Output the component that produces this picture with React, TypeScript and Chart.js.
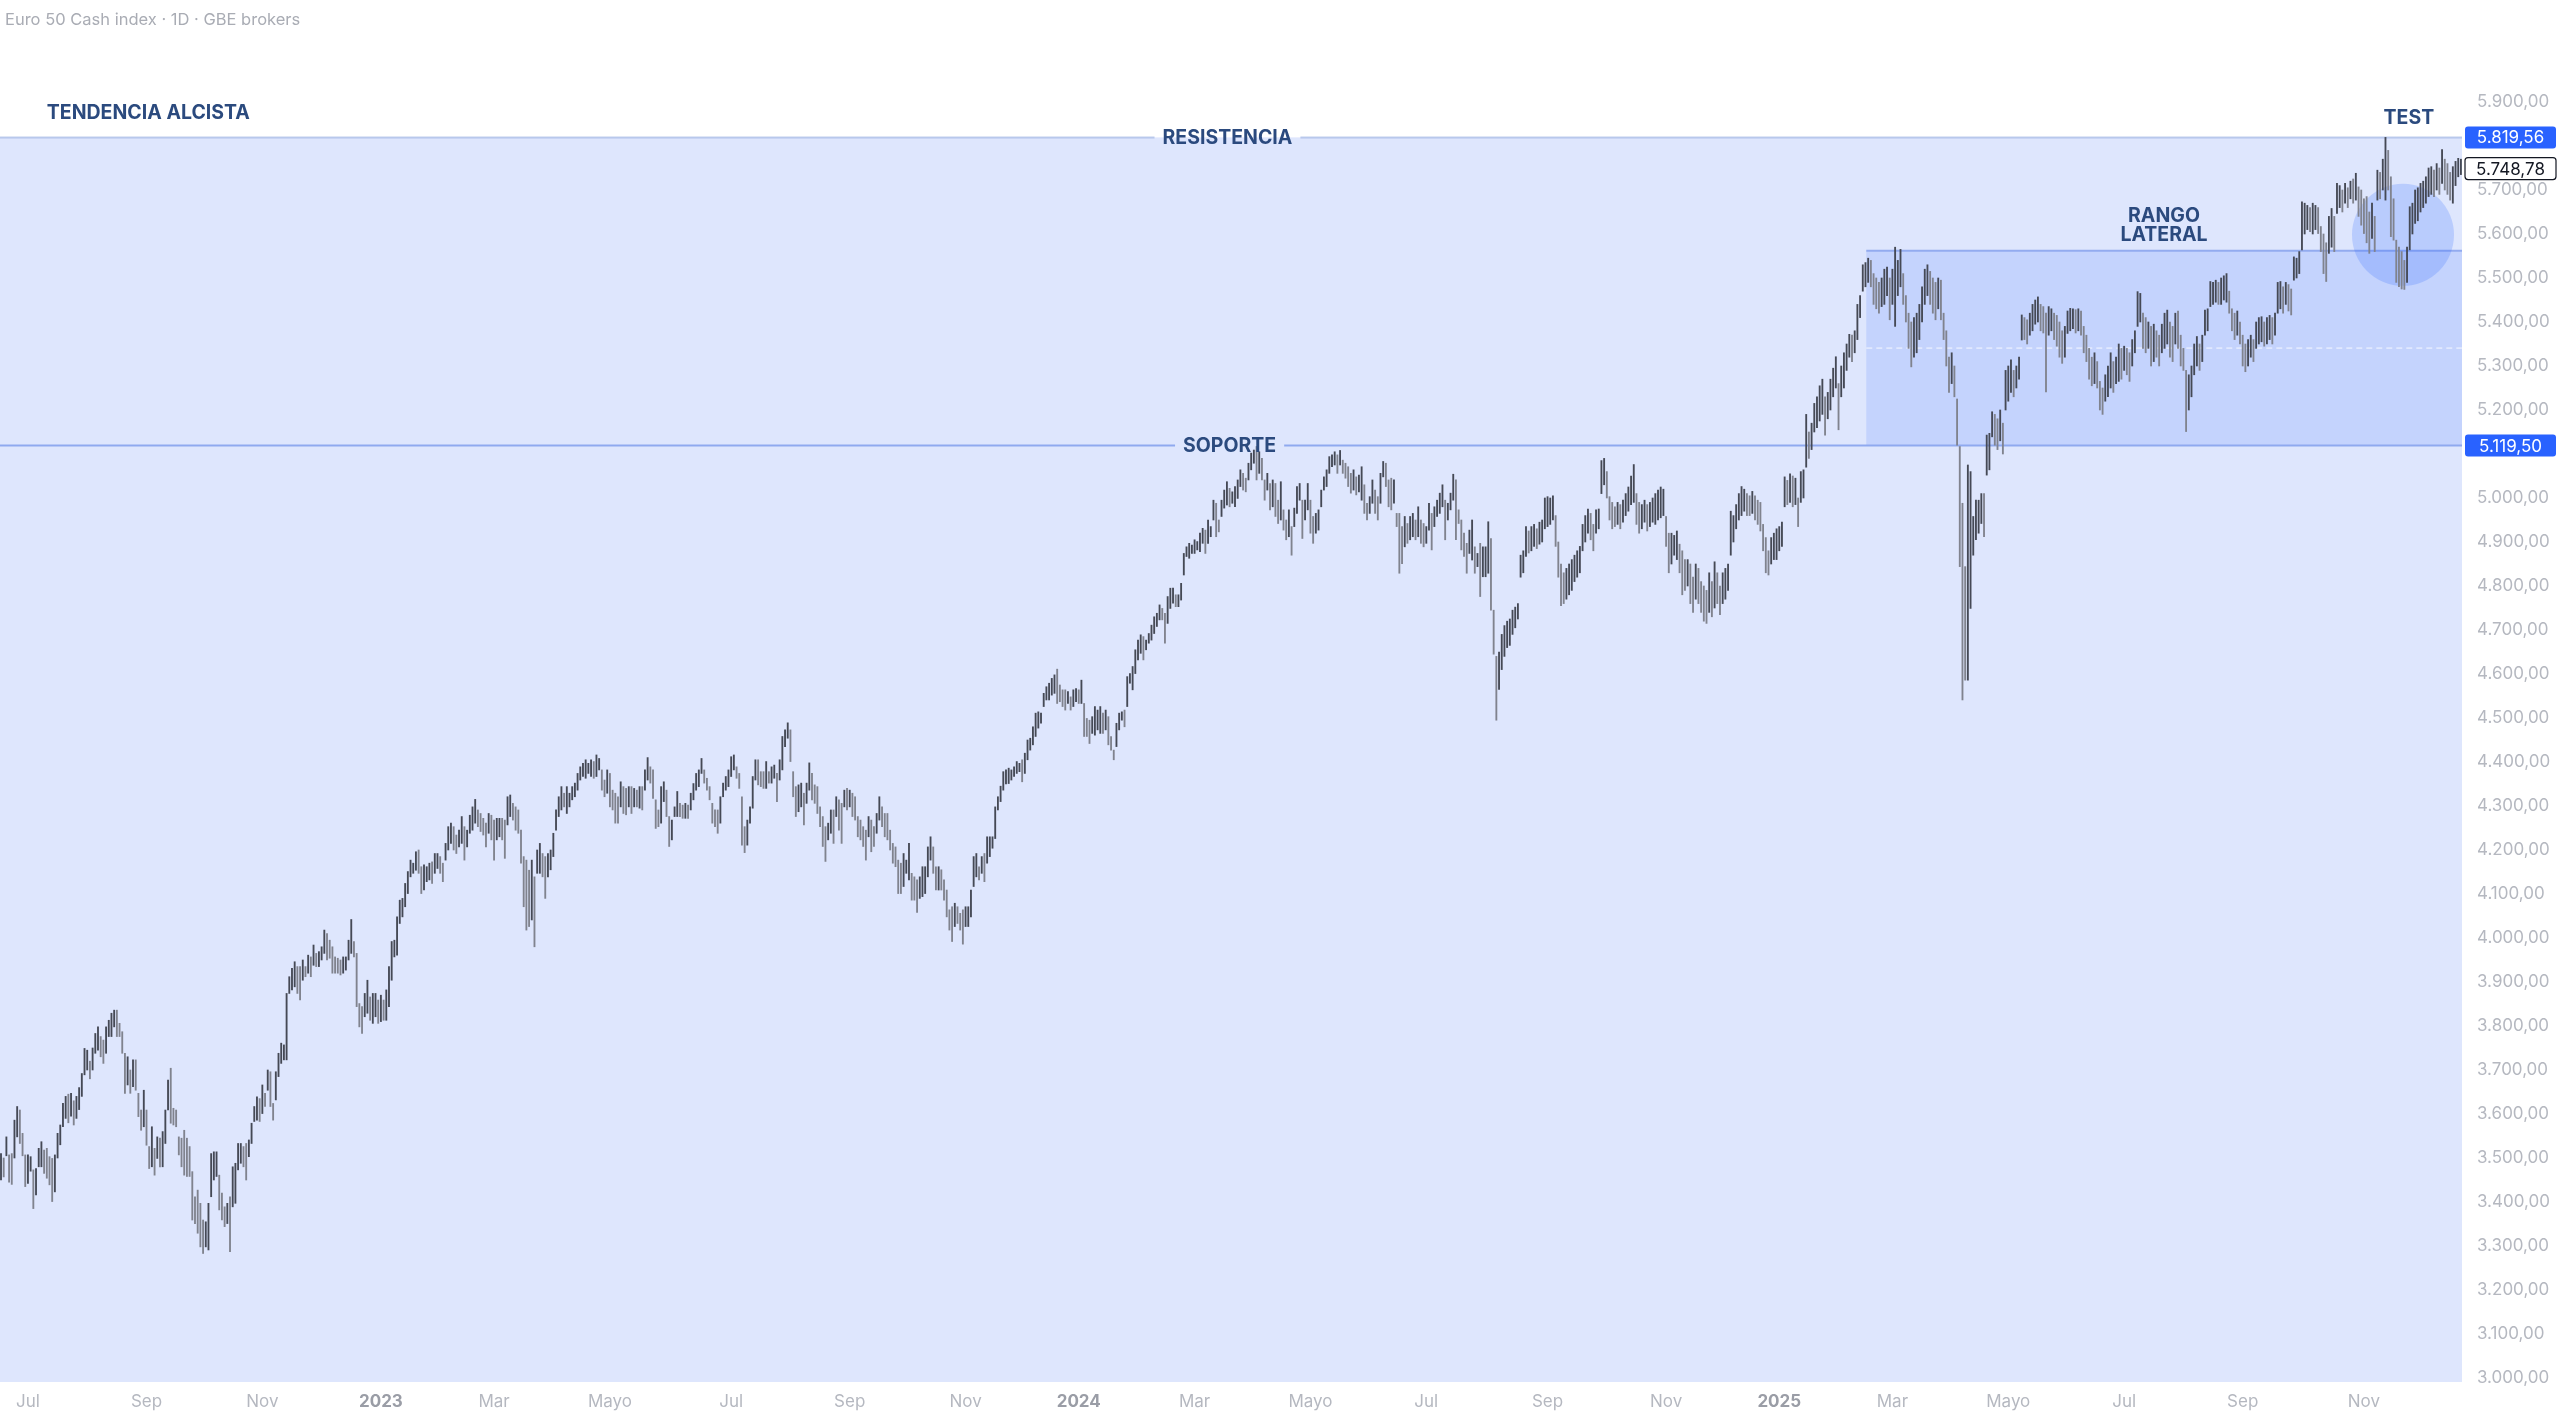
import React, { useEffect, useRef } from 'react';
import { Chart, registerables } from 'chart.js';

Chart.register(...registerables);

// ---------- data ----------
const TITLE = 'Euro 50 Cash index · 1D · GBE brokers';
const START = { year: 2022, month: 5, day: 17 }; // first bar: 17 Jun 2022 (month 0-based)
const HOLIDAYS = ['12-25', '01-01'];
const MONTH_LABELS: Record<number, string> = { 3: 'Mar', 5: 'Mayo', 7: 'Jul', 9: 'Sep', 11: 'Nov' };

const lows = [
  3450,3457,3505,3445,3440,3500,3548,3533,3505,3435,
  3442,3470,3385,3416,3480,3480,3465,3454,3439,3401,
  3423,3500,3530,3571,3590,3580,3595,3575,3590,3610,
  3640,3689,3700,3680,3700,3738,3745,3730,3715,3738,
  3776,3776,3798,3776,3776,3738,3647,3666,3647,3662,
  3654,3594,3563,3571,3529,3476,3480,3461,3499,3480,
  3480,3533,3609,3579,3575,3571,3507,3480,3461,3458,
  3458,3359,3351,3329,3298,3283,3298,3291,3412,3450,
  3458,3382,3359,3344,3351,3287,3389,3397,3473,3488,
  3480,3450,3503,3533,3583,3586,3583,3601,3617,3654,
  3617,3586,3632,3685,3715,3723,3723,3874,3882,3889,
  3874,3859,3904,3912,3920,3912,3938,3935,3935,3950,
  3965,3950,3954,3920,3920,3920,3916,3920,3927,3950,
  3965,3957,3844,3798,3783,3821,3829,3813,3806,3821,
  3806,3810,3813,3813,3844,3904,3957,3961,4033,4048,
  4071,4101,4139,4147,4154,4147,4101,4109,4128,4132,
  4124,4147,4158,4147,4128,4177,4200,4215,4200,4192,
  4207,4215,4177,4207,4238,4245,4261,4253,4242,4234,
  4207,4238,4223,4177,4223,4230,4223,4181,4257,4276,
  4268,4245,4238,4170,4071,4018,4026,4041,3980,4147,
  4147,4139,4090,4139,4155,4185,4245,4276,4291,4298,
  4283,4298,4314,4321,4336,4359,4367,4363,4374,4367,
  4363,4367,4382,4336,4321,4329,4298,4291,4261,4261,
  4298,4283,4280,4298,4283,4298,4298,4295,4291,4336,
  4359,4352,4317,4249,4253,4261,4310,4276,4208,4223,
  4276,4276,4276,4272,4272,4272,4291,4314,4336,4344,
  4374,4352,4336,4314,4261,4253,4238,4261,4321,4336,
  4344,4367,4382,4363,4340,4211,4194,4211,4261,4295,
  4359,4348,4344,4340,4340,4352,4352,4363,4310,4359,
  4382,4435,4454,4401,4321,4276,4287,4298,4257,4306,
  4336,4314,4306,4283,4253,4208,4174,4223,4238,4215,
  4276,4245,4215,4298,4291,4298,4276,4268,4230,4223,
  4208,4177,4230,4196,4208,4238,4268,4253,4230,4223,
  4200,4170,4162,4101,4101,4117,4147,4132,4086,4086,
  4058,4090,4094,4101,4139,4177,4147,4109,4109,4109,
  4086,4048,4018,3992,4026,4033,4018,3986,4026,4026,
  4048,4117,4139,4132,4147,4128,4170,4185,4204,4226,
  4291,4310,4336,4350,4351,4359,4367,4374,4378,4355,
  4374,4405,4427,4439,4458,4477,4488,4526,4541,4541,
  4552,4556,4533,4537,4526,4518,4533,4518,4526,4537,
  4533,4533,4458,4458,4442,4465,4461,4473,4465,4465,
  4473,4439,4427,4405,4435,4473,4495,4480,4526,4579,
  4564,4601,4632,4647,4632,4655,4670,4677,4692,4708,
  4723,4723,4670,4715,4749,4761,4753,4753,4768,4825,
  4867,4863,4874,4874,4882,4878,4897,4874,4897,4912,
  4950,4912,4923,4958,4977,4984,4980,4988,4980,4999,
  5026,5018,5014,5041,5064,5079,5041,5056,5041,4995,
  5018,4973,4980,4958,4942,4950,4927,4905,4912,4870,
  4935,4965,4995,4908,4950,4973,4920,4897,4920,4927,
  4980,5018,5026,5056,5071,5075,5056,5075,5056,5045,
  5026,5011,5018,5007,5014,4995,4965,4950,4965,4988,
  4965,4950,4988,5048,5026,4980,4973,4988,4935,4829,
  4851,4889,4897,4905,4912,4905,4912,4897,4889,4897,
  4927,4882,4935,4958,4965,4980,4905,4950,4973,4995,
  4905,4942,4882,4867,4829,4874,4859,4829,4844,4776,
  4821,4821,4829,4745,4645,4495,4565,4610,4640,4660,
  4665,4690,4705,4725,4820,4830,4867,4875,4880,4890,
  4885,4895,4900,4930,4935,4940,4950,4890,4820,4755,
  4760,4770,4780,4790,4810,4820,4830,4880,4900,4920,
  4905,4880,4920,4930,5010,5030,5000,4950,4930,4935,
  4940,4930,4945,4960,4970,4985,4990,4940,4920,4930,
  4945,4925,4935,4945,4940,4950,4955,4960,4890,4830,
  4850,4870,4860,4830,4780,4790,4800,4760,4740,4770,
  4760,4740,4720,4715,4740,4730,4750,4760,4735,4760,
  4770,4790,4870,4900,4930,4950,4960,4970,4960,4960,
  4965,4950,4940,4925,4880,4830,4825,4850,4860,4860,
  4880,4890,4980,4985,4990,4980,4985,4935,4990,5000,
  5070,5090,5110,5150,5160,5175,5190,5143,5180,5200,
  5230,5250,5155,5230,5250,5290,5320,5310,5330,5360,
  5410,5470,5480,5490,5480,5440,5430,5420,5435,5440,
  5460,5405,5440,5390,5460,5480,5440,5400,5340,5298,
  5320,5330,5360,5400,5440,5460,5440,5420,5405,5430,
  5405,5360,5300,5240,5260,5230,5120,4844,4541,4586,
  4586,4749,4870,4905,4920,4942,4912,5052,5064,5139,
  5120,5110,5130,5100,5200,5220,5240,5230,5250,5270,
  5359,5360,5350,5370,5380,5395,5400,5380,5375,5241,
  5370,5380,5360,5345,5320,5306,5320,5374,5380,5385,
  5375,5380,5370,5330,5310,5270,5255,5260,5250,5200,
  5190,5220,5230,5250,5240,5260,5265,5270,5290,5280,
  5265,5300,5330,5390,5400,5340,5330,5340,5300,5310,
  5320,5300,5330,5340,5350,5320,5310,5350,5340,5300,
  5290,5151,5200,5230,5280,5300,5290,5310,5370,5380,
  5435,5440,5445,5440,5440,5450,5445,5420,5380,5360,
  5370,5350,5300,5287,5300,5320,5310,5340,5350,5355,
  5345,5350,5360,5350,5370,5420,5430,5420,5440,5425,
  5416,5495,5500,5510,5564,5600,5610,5605,5600,5610,
  5601,5560,5510,5492,5556,5570,5560,5647,5660,5650,
  5670,5660,5680,5670,5677,5640,5620,5601,5580,5556,
  5590,5560,5677,5680,5700,5677,5700,5594,5586,5490,
  5480,5475,5474,5490,5564,5600,5624,5630,5650,5660,
  5670,5685,5690,5685,5700,5690,5715,5700,5690,5677,
  5670,5710,5730,5735,
];

const highs = [
  3510,3500,3548,3507,3510,3586,3617,3609,3556,3507,
  3507,3503,3473,3476,3522,3537,3518,3522,3503,3499,
  3507,3556,3575,3624,3640,3645,3647,3630,3640,3660,
  3692,3749,3745,3720,3750,3783,3798,3776,3768,3798,
  3813,3829,3836,3836,3806,3787,3738,3730,3700,3723,
  3723,3647,3609,3654,3609,3526,3571,3522,3548,3545,
  3560,3609,3677,3704,3613,3609,3548,3545,3563,3545,
  3526,3469,3412,3427,3397,3359,3355,3397,3510,3514,
  3514,3461,3420,3389,3397,3412,3480,3488,3533,3533,
  3526,3533,3541,3579,3617,3639,3635,3666,3647,3700,
  3696,3624,3696,3738,3761,3757,3874,3912,3931,3946,
  3935,3935,3950,3935,3961,3957,3984,3965,3969,3980,
  4018,4010,3995,3980,3957,3954,3950,3957,3957,3995,
  4042,3992,3965,3851,3844,3874,3904,3866,3874,3874,
  3859,3870,3859,3882,3935,3992,3995,4048,4086,4090,
  4124,4151,4177,4170,4196,4200,4162,4166,4162,4170,
  4173,4192,4192,4185,4170,4215,4253,4261,4253,4234,
  4245,4276,4253,4245,4279,4298,4315,4291,4283,4272,
  4261,4283,4279,4268,4272,4272,4272,4268,4321,4325,
  4306,4298,4291,4245,4185,4177,4154,4177,4139,4200,
  4215,4192,4185,4192,4200,4238,4291,4321,4344,4329,
  4344,4329,4344,4352,4374,4389,4397,4405,4397,4405,
  4401,4416,4408,4382,4359,4382,4374,4336,4329,4321,
  4355,4344,4340,4344,4344,4340,4336,4344,4344,4382,
  4410,4389,4382,4314,4291,4344,4355,4336,4276,4268,
  4298,4333,4306,4302,4306,4302,4329,4351,4374,4382,
  4408,4382,4363,4344,4306,4291,4291,4321,4352,4367,
  4382,4412,4416,4389,4374,4321,4253,4268,4298,4367,
  4405,4405,4378,4378,4401,4378,4389,4393,4374,4405,
  4458,4473,4489,4473,4378,4344,4348,4352,4329,4352,
  4398,4374,4348,4344,4298,4276,4253,4261,4291,4291,
  4321,4314,4306,4336,4340,4336,4329,4321,4276,4268,
  4253,4245,4276,4268,4253,4283,4321,4298,4283,4283,
  4245,4215,4207,4177,4170,4192,4177,4215,4147,4139,
  4132,4139,4162,4162,4207,4230,4207,4162,4162,4155,
  4132,4109,4064,4071,4079,4071,4056,4064,4071,4071,
  4109,4185,4192,4162,4185,4192,4230,4230,4230,4298,
  4321,4345,4378,4382,4386,4382,4389,4401,4397,4405,
  4420,4450,4454,4480,4511,4514,4511,4556,4571,4579,
  4590,4598,4611,4575,4564,4564,4560,4548,4564,4567,
  4564,4586,4533,4499,4495,4503,4526,4518,4526,4511,
  4518,4503,4458,4427,4488,4511,4514,4518,4594,4601,
  4617,4655,4677,4689,4685,4677,4692,4711,4730,4738,
  4757,4749,4738,4776,4795,4795,4780,4780,4806,4874,
  4889,4897,4893,4905,4901,4920,4931,4927,4950,4935,
  4995,4988,4950,4995,5018,5037,5022,5014,5026,5041,
  5064,5056,5045,5079,5102,5109,5117,5105,5090,5041,
  5056,5033,5041,5033,4995,5037,4973,4950,4973,4935,
  4977,5026,5033,4995,4995,5033,4995,4958,4965,4973,
  5018,5048,5064,5094,5098,5105,5098,5108,5086,5079,
  5071,5056,5064,5048,5052,5071,5030,4988,5003,5041,
  5018,5003,5056,5083,5079,5041,5045,5041,4965,4965,
  4935,4958,4942,4958,4965,4950,4980,4950,4942,4935,
  4988,4965,4980,4995,5011,5030,4995,4988,5011,5054,
  5041,4973,4950,4920,4897,4927,4950,4889,4874,4897,
  4889,4889,4946,4908,4745,4640,4650,4690,4710,4720,
  4725,4745,4752,4760,4870,4880,4935,4925,4935,4940,
  4930,4945,4950,5000,5003,5000,5005,4960,4900,4850,
  4830,4840,4850,4860,4870,4880,4890,4940,4960,4975,
  4965,4940,4973,4975,5085,5090,5060,5003,4990,4980,
  4990,4985,4995,5010,5025,5050,5076,5010,4990,4985,
  4995,4985,4990,5000,5010,5018,5025,5020,4958,4920,
  4920,4915,4925,4895,4880,4860,4860,4850,4820,4850,
  4840,4810,4800,4790,4830,4810,4855,4830,4800,4830,
  4840,4850,4970,4960,4985,5010,5026,5020,5010,5005,
  5015,5005,4995,4990,4940,4910,4880,4910,4920,4930,
  4935,4945,5048,5040,5055,5050,5045,5000,5060,5064,
  5190,5150,5170,5215,5230,5255,5270,5230,5240,5270,
  5295,5321,5260,5300,5330,5350,5372,5370,5380,5440,
  5460,5530,5535,5545,5540,5510,5500,5490,5500,5520,
  5525,5500,5520,5570,5540,5565,5510,5460,5420,5400,
  5410,5420,5440,5480,5520,5530,5515,5500,5490,5500,
  5495,5420,5380,5320,5330,5300,5225,5117,4988,4844,
  5075,5060,4958,4995,4995,5010,5010,5143,5147,5196,
  5190,5180,5200,5170,5290,5300,5314,5290,5300,5320,
  5416,5410,5405,5420,5440,5450,5457,5440,5435,5420,
  5435,5430,5420,5415,5400,5380,5390,5425,5431,5430,
  5428,5430,5425,5390,5370,5340,5320,5330,5310,5265,
  5250,5280,5300,5330,5310,5320,5350,5340,5345,5340,
  5330,5360,5380,5469,5465,5420,5410,5400,5390,5395,
  5380,5370,5395,5420,5427,5400,5390,5420,5425,5370,
  5340,5290,5280,5300,5350,5367,5350,5370,5427,5430,
  5492,5490,5495,5490,5500,5505,5510,5470,5430,5420,
  5425,5400,5370,5350,5360,5370,5360,5400,5410,5412,
  5400,5410,5415,5410,5420,5490,5492,5480,5490,5485,
  5475,5548,5545,5560,5673,5670,5665,5660,5670,5665,
  5660,5617,5600,5580,5640,5658,5640,5715,5710,5700,
  5715,5705,5720,5725,5738,5707,5700,5680,5685,5650,
  5670,5640,5745,5740,5770,5819.56,5790,5730,5680,5586,
  5570,5560,5540,5570,5662,5670,5700,5705,5715,5720,
  5730,5750,5753,5745,5760,5750,5792,5770,5760,5740,
  5753,5765,5772,5770,
];

const RESISTANCE = 5819.56;
const SUPPORT = 5119.5;
const RANGE_TOP = 5562;
const LAST_PRICE = 5748.78;
const RANGE_START_BAR = 692.3;
const CIRCLE = { bar: 891.5, value: 5598 };

const NOTES = [
  { lines: ['TENDENCIA ALCISTA'], bar: 17, value: 5875, align: 'left' as CanvasTextAlign },
  { lines: ['RANGO', 'LATERAL'], bar: 802.8, value: 5641, align: 'center' as CanvasTextAlign },
  { lines: ['TEST'], bar: 893.7, value: 5864, align: 'center' as CanvasTextAlign },
];
const LINE_LABELS = [
  { text: 'RESISTENCIA', bar: 455.2, value: RESISTANCE },
  { text: 'SOPORTE', bar: 456, value: SUPPORT },
];

// ---------- helpers ----------
const FONT = 'Inter, "Noto Sans", sans-serif';
const NOTE_FONT = `700 19.5px ${FONT}`;
const fmtPrice = (v: number) => {
  const [ip, dp] = v.toFixed(2).split('.');
  return ip.replace(/\B(?=(\d{3})+(?!\d))/g, '.') + ',' + dp;
};

function buildDates(n: number) {
  const out: Date[] = [];
  const d = new Date(Date.UTC(START.year, START.month, START.day));
  while (out.length < n) {
    const wd = d.getUTCDay();
    const md = String(d.getUTCMonth() + 1).padStart(2, '0') + '-' + String(d.getUTCDate()).padStart(2, '0');
    if (wd !== 0 && wd !== 6 && !HOLIDAYS.includes(md)) out.push(new Date(d.getTime()));
    d.setUTCDate(d.getUTCDate() + 1);
  }
  return out;
}

export default function App() {
  const ref = useRef<HTMLCanvasElement | null>(null);

  useEffect(() => {
    const canvas = ref.current;
    if (!canvas) return;
    document.body.style.margin = '0';
    const n = lows.length;
    const dates = buildDates(n);
    const xTicks: { value: number; label: string; year: boolean }[] = [];
    for (let k = 1; k < n; k++) {
      const m = dates[k].getUTCMonth();
      if (m !== dates[k - 1].getUTCMonth() && m % 2 === 0) {
        const isYear = m === 0;
        xTicks.push({ value: k, label: isYear ? String(dates[k].getUTCFullYear()) : MONTH_LABELS[m + 1], year: isYear });
      }
    }
    const tickMap = new Map(xTicks.map((t) => [t.value, t]));
    const mids = lows.map((l, k) => (l + highs[k]) / 2);
    const colors = mids.map((m, k) => (k === 0 || m >= mids[k - 1] ? '#454955' : '#80838e'));
    const priceLabels = [RESISTANCE, LAST_PRICE, SUPPORT];
    const yTickVals: number[] = [];
    for (let v = 3000; v <= 5900; v += 100) {
      if (priceLabels.every((p) => Math.abs(p - v) > 36)) yTickVals.push(v);
    }

    const annot = {
      id: 'annot',
      beforeDatasetsDraw(chart: any) {
        const { ctx, chartArea: ca, scales } = chart;
        const x = scales.x, y = scales.y;
        ctx.save();
        const yr = y.getPixelForValue(RESISTANCE);
        const ys = y.getPixelForValue(SUPPORT);
        const yt = y.getPixelForValue(RANGE_TOP);
        // trend area
        ctx.fillStyle = 'rgb(222,230,253)';
        ctx.fillRect(ca.left, yr, ca.right - ca.left, ca.bottom - yr);
        // range box
        const bx = x.getPixelForValue(RANGE_START_BAR);
        ctx.fillStyle = 'rgba(41,98,255,0.14)';
        ctx.fillRect(bx, yt, ca.right - bx, ys - yt);
        ctx.strokeStyle = '#93abef';
        ctx.lineWidth = 2;
        ctx.beginPath();
        ctx.moveTo(bx, yt);
        ctx.lineTo(ca.right, yt);
        ctx.stroke();
        // dashed mid line
        const ym = y.getPixelForValue((RANGE_TOP + SUPPORT) / 2);
        ctx.strokeStyle = 'rgba(255,255,255,0.85)';
        ctx.lineWidth = 1;
        ctx.setLineDash([6, 4]);
        ctx.beginPath();
        ctx.moveTo(bx, ym);
        ctx.lineTo(ca.right, ym);
        ctx.stroke();
        ctx.setLineDash([]);
        // circle
        ctx.fillStyle = 'rgba(41,98,255,0.2)';
        ctx.beginPath();
        ctx.arc(x.getPixelForValue(CIRCLE.bar), y.getPixelForValue(CIRCLE.value), 51, 0, Math.PI * 2);
        ctx.fill();
        // horizontal lines with gaps for labels
        ctx.font = NOTE_FONT;
        LINE_LABELS.forEach((lb) => {
          const py = y.getPixelForValue(lb.value);
          const cx = x.getPixelForValue(lb.bar);
          const half = ctx.measureText(lb.text).width / 2 + 8;
          ctx.strokeStyle = lb.value === RESISTANCE ? 'rgba(150,175,225,0.6)' : '#8fa9ef';
          ctx.lineWidth = 2;
          ctx.beginPath();
          ctx.moveTo(ca.left, py);
          ctx.lineTo(cx - half, py);
          ctx.moveTo(cx + half, py);
          ctx.lineTo(ca.right, py);
          ctx.stroke();
        });
        ctx.restore();
      },
      afterDatasetsDraw(chart: any) {
        const { ctx, scales } = chart;
        const x = scales.x, y = scales.y;
        ctx.save();
        ctx.font = NOTE_FONT;
        ctx.fillStyle = '#2b4a7e';
        ctx.textBaseline = 'middle';
        LINE_LABELS.forEach((lb) => {
          ctx.textAlign = 'center';
          ctx.fillText(lb.text, x.getPixelForValue(lb.bar), y.getPixelForValue(lb.value) + 1);
        });
        NOTES.forEach((nt) => {
          ctx.textAlign = nt.align;
          nt.lines.forEach((ln, j) => {
            ctx.fillText(ln, x.getPixelForValue(nt.bar), y.getPixelForValue(nt.value) + j * 19);
          });
        });
        ctx.restore();
      },
      afterDraw(chart: any) {
        const { ctx, chartArea: ca, scales } = chart;
        const y = scales.y;
        ctx.save();
        ctx.font = `16.5px ${FONT}`;
        ctx.fillStyle = '#a9acb4';
        ctx.textAlign = 'left';
        ctx.textBaseline = 'middle';
        ctx.fillText(TITLE, 5, 20);
        const left = ca.right + 3;
        const right = chart.width - 4;
        const box = (v: number, fill: string, stroke: string | null, color: string) => {
          const py = y.getPixelForValue(v);
          const h = 22;
          ctx.beginPath();
          (ctx as any).roundRect(left, py - h / 2, right - left, h, 3);
          ctx.fillStyle = fill;
          ctx.fill();
          if (stroke) {
            ctx.strokeStyle = stroke;
            ctx.lineWidth = 1.2;
            ctx.stroke();
          }
          ctx.fillStyle = color;
          ctx.font = `17px ${FONT}`;
          ctx.textAlign = 'center';
          ctx.textBaseline = 'middle';
          ctx.fillText(fmtPrice(v), (left + right) / 2, py + 1);
        };
        box(RESISTANCE, '#2962ff', null, '#ffffff');
        box(SUPPORT, '#2962ff', null, '#ffffff');
        box(LAST_PRICE, '#ffffff', '#131722', '#131722');
        ctx.restore();
      },
    };

    const chart = new Chart(canvas, {
      type: 'bar',
      data: {
        datasets: [
          {
            data: lows.map((l, k) => ({ x: k, y: [l, highs[k]] })) as any,
            backgroundColor: colors,
            borderWidth: 0,
            barThickness: 1.2,
            grouped: false,
          } as any,
        ],
      },
      options: {
        animation: false,
        responsive: true,
        maintainAspectRatio: false,
        layout: { padding: 0 },
        plugins: { legend: { display: false }, tooltip: { enabled: false }, title: { display: false } },
        scales: {
          x: {
            type: 'linear',
            min: -0.37,
            max: 913.4,
            offset: false,
            grid: { display: false, drawTicks: false },
            border: { display: false },
            afterFit: (s: any) => {
              s.height = 35;
              s.paddingLeft = 0;
              s.paddingRight = 0;
            },
            afterBuildTicks: (s: any) => { s.ticks = xTicks.map((t) => ({ value: t.value })); },
            ticks: {
              autoSkip: false,
              maxRotation: 0,
              padding: 10,
              callback: (v: any) => (tickMap.get(v) ? tickMap.get(v)!.label : ''),
              color: (c: any) => (c.tick && tickMap.get(c.tick.value)?.year ? '#9a9da6' : '#b5b8c0'),
              font: (c: any) => ({
                family: FONT,
                size: 17,
                weight: c.tick && tickMap.get(c.tick.value)?.year ? 'bold' : 'normal',
              }),
            },
          },
          y: {
            type: 'linear',
            position: 'right',
            min: 2990.9,
            max: 6131.8,
            grid: { display: false, drawTicks: false },
            border: { display: false },
            afterFit: (s: any) => {
              s.width = 98;
              s.paddingTop = 0;
              s.paddingBottom = 0;
            },
            afterBuildTicks: (s: any) => { s.ticks = yTickVals.map((v) => ({ value: v })); },
            ticks: {
              autoSkip: false,
              padding: 15,
              color: '#b5b8c0',
              font: { family: FONT, size: 17 },
              callback: (v: any) => fmtPrice(Number(v)),
            },
          },
        },
      } as any,
      plugins: [annot],
    });
    return () => chart.destroy();
  }, []);

  return (
    <div style={{ position: 'absolute', left: 0, top: 0, width: 2560, height: 1417, background: '#ffffff' }}>
      <canvas ref={ref} />
    </div>
  );
}
